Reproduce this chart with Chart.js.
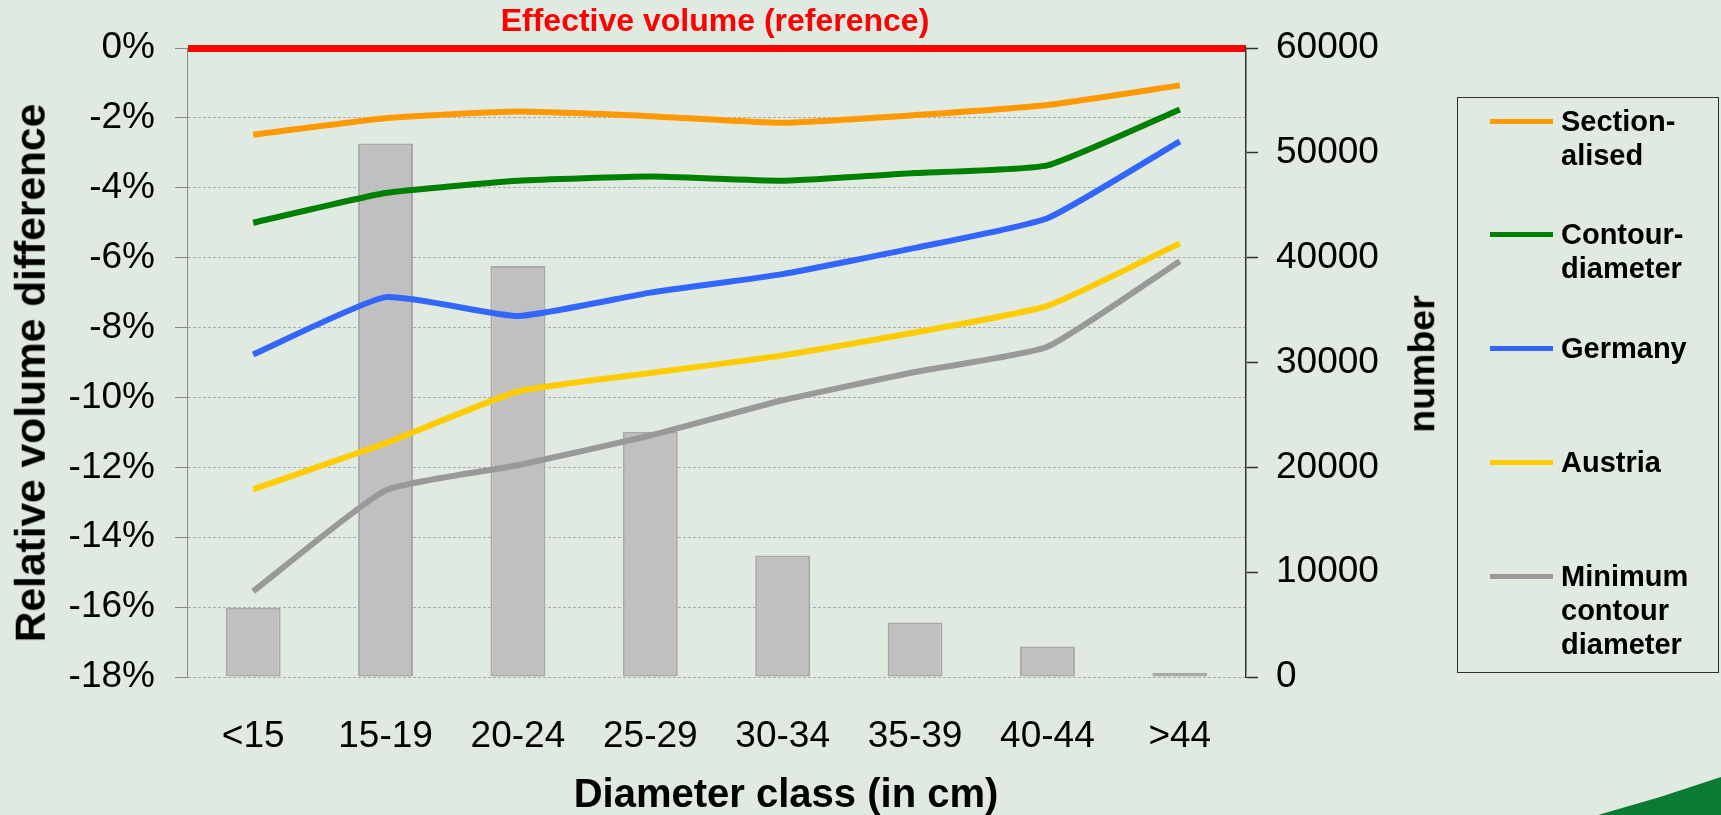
<!DOCTYPE html>
<html>
<head>
<meta charset="utf-8">
<script src="https://cdn.jsdelivr.net/npm/chart.js@4.4.1/dist/chart.umd.min.js"></script>
<style>
  html, body { margin: 0; padding: 0; background: #e0eae1; }
  #wrap { position: relative; width: 1721px; height: 815px; overflow: hidden;
          font-family: "Liberation Sans", Arial, sans-serif; }
  #myChart { position: absolute; left: 0; top: 0; }
  .ttl { position: absolute; font-weight: bold; white-space: nowrap; line-height: 1; color: #000; }
  #legend { position: absolute; left: 1457px; top: 97px; width: 262px; height: 576px;
            border: 1.5px solid #333; box-sizing: border-box; }
  .lg-line { position: absolute; left: 1490px; width: 63px; height: 5px; }
  .lg-text { position: absolute; left: 1561px; font-size: 29px; font-weight: bold; line-height: 34px; }
  #corner { position: absolute; left: 0; top: 0; width: 1721px; height: 815px; pointer-events: none;
            background: #0b7a32; clip-path: polygon(1598px 815px, 1660px 797px, 1721px 777px, 1721px 815px); }
</style>
</head>
<body>
<div id="wrap">
  <canvas id="myChart" width="1721" height="815"></canvas>
  <div class="ttl" style="left:715px; top:20px; font-size:32px; color:#ff0000; transform:translate(-50%,-50%);">Effective volume (reference)</div>
  <div class="ttl" style="left:31px; top:373px; font-size:42.5px; transform:translate(-50%,-50%) rotate(-90deg);">Relative volume difference</div>
  <div class="ttl" style="left:1422px; top:364px; font-size:37.5px; transform:translate(-50%,-50%) rotate(-90deg);">number</div>
  <div class="ttl" style="left:786px; top:793px; font-size:40px; transform:translate(-50%,-50%);">Diameter class (in cm)</div>
  <div id="legend"></div>
  <div id="legendItems"></div>
  <div id="corner"></div>
</div>
<script>
const categories = ["<15", "15-19", "20-24", "25-29", "30-34", "35-39", "40-44", ">44"];
const treeNumber = [6600, 50900, 39200, 23400, 11600, 5200, 2900, 400];
const sectionalised = [-2.48, -2.01, -1.82, -1.95, -2.14, -1.92, -1.63, -1.07];
const contourDiameter = [-5.0, -4.15, -3.8, -3.68, -3.8, -3.58, -3.36, -1.76];
const germany = [-8.77, -7.13, -7.67, -7.0, -6.47, -5.72, -4.87, -2.67];
const austria = [-12.63, -11.31, -9.83, -9.3, -8.8, -8.14, -7.38, -5.59];
const minimumContour = [-15.55, -12.66, -11.94, -11.09, -10.08, -9.27, -8.55, -6.1];

const seriesNames = [["Section-", "alised"], ["Contour-", "diameter"], ["Germany"], ["Austria"], ["Minimum", "contour", "diameter"]];
const seriesColors = ["#ff9900", "#008000", "#3366ff", "#ffcc00", "#999999"];
const seriesData = [sectionalised, contourDiameter, germany, austria, minimumContour];
const legendY = [121, 234, 348, 462, 576];

const tickFont = { family: "'Liberation Sans', Arial, sans-serif", size: 37 };

const lineSets = seriesData.map((d, i) => ({
  type: "line",
  label: seriesNames[i].join(" "),
  data: d,
  yAxisID: "y",
  borderColor: seriesColors[i],
  borderWidth: 6,
  pointRadius: 0,
  tension: 0.15,
  fill: false,
  order: 1
}));

const chart = new Chart(document.getElementById("myChart"), {
  type: "bar",
  data: {
    labels: categories,
    datasets: [
      ...lineSets,
      {
        type: "bar",
        label: "number",
        data: treeNumber,
        yAxisID: "y1",
        backgroundColor: "#c0c0c0",
        borderColor: "#a9a9a9",
        borderWidth: 2,
        borderSkipped: false,
        barPercentage: 0.415,
        categoryPercentage: 1,
        order: 10
      }
    ]
  },
  options: {
    responsive: false,
    animation: false,
    layout: { padding: { top: 48, left: 0, right: 0, bottom: 0 } },
    plugins: { legend: { display: false }, title: { display: false }, tooltip: { enabled: false } },
    scales: {
      x: {
        grid: { display: false, drawTicks: false },
        border: { display: false },
        ticks: { color: "#000", font: tickFont, padding: 38, maxRotation: 0 },
        afterFit: (s) => { s.height = 138; }
      },
      y: {
        position: "left",
        min: -18,
        max: 0,
        ticks: { stepSize: 2, color: "#000", font: tickFont, padding: 20, callback: (v) => v + "%" },
        grid: {
          color: (c) => (c.tick && c.tick.value === 0 ? "#ff0000" : "#ababab"),
          lineWidth: (c) => (c.tick && c.tick.value === 0 ? 7 : 1),
          tickColor: "#878787",
          tickWidth: 1,
          tickLength: 12
        },
        border: { color: "#878787", width: 1, dash: (c) => (c.tick && c.tick.value === 0 ? [] : [3, 2]) },
        afterFit: (s) => { s.width = 187; }
      },
      y1: {
        position: "right",
        min: 0,
        max: 60000,
        ticks: { stepSize: 10000, color: "#000", font: tickFont, padding: 18, callback: (v) => String(v) },
        grid: { drawOnChartArea: false, tickColor: "#333", tickLength: 12, tickWidth: 1.5 },
        border: { color: "#333", width: 1.5 },
        afterFit: (s) => { s.width = 475; }
      }
    }
  }
});

// legend
const items = document.getElementById("legendItems");
seriesNames.forEach((name, i) => {
  const ln = document.createElement("div");
  ln.className = "lg-line";
  ln.style.top = (legendY[i] - 2.5) + "px";
  ln.style.background = seriesColors[i];
  items.appendChild(ln);
  const tx = document.createElement("div");
  tx.className = "lg-text";
  tx.style.top = (legendY[i] - 17) + "px";
  tx.innerHTML = name.join("<br>");
  items.appendChild(tx);
});
</script>
</body>
</html>
